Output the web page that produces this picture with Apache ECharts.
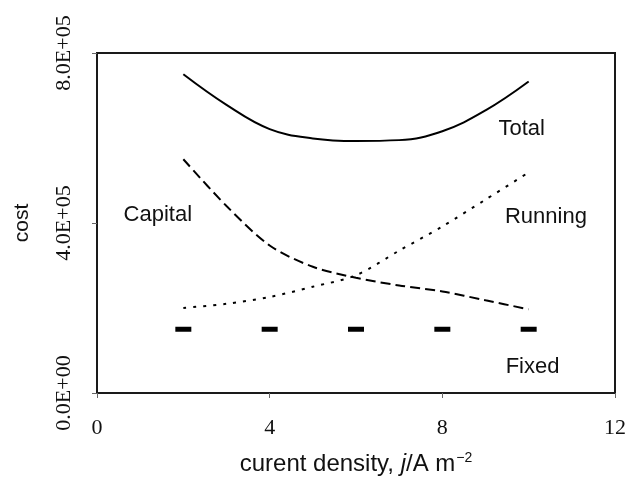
<!DOCTYPE html>
<html>
<head>
<meta charset="utf-8">
<script src="https://cdn.jsdelivr.net/npm/echarts@6/dist/echarts.min.js"></script>
<style>
html,body{margin:0;padding:0;background:#fff;}
#c{width:629px;height:481px;}
</style>
</head>
<body>
<div id="c"></div>
<script>
// current density j / A m^-2
const xValues = [2, 3, 4, 5, 6, 7, 8, 9, 10];
const totalCost   = [750000, 678000, 621000, 599000, 593000, 595000, 616000, 665000, 733000];
const capitalCost = [550000, 440000, 347000, 297000, 271000, 253000, 239000, 218000, 197000];
const runningCost = [200000, 210000, 226000, 250000, 277000, 335000, 392000, 455000, 519000];
const fixedX = [2, 4, 6, 8, 10];
const fixedCost = [150000, 150000, 150000, 150000, 150000];
const xTicks = [0, 4, 8, 12];
const yTickValues = [0, 400000, 800000];
const yTickLabels = ['0.0E+00', '4.0E+05', '8.0E+05'];
const curveLabels = ['Total', 'Capital', 'Running', 'Fixed'];
const curveLabelX = [9.84, 1.41, 10.4, 10.09];
const curveLabelY = [622000, 419000, 414000, 62000];

const pairs = (xs, ys) => xs.map((x, i) => [x, ys[i]]);

const chart = echarts.init(document.getElementById('c'), null, {renderer: 'canvas'});
chart.setOption({
  backgroundColor: '#fff',
  animation: false,
  grid: {left: 97, right: 14, top: 53, bottom: 86, show: true, borderColor: '#1a1a1a', borderWidth: 2, backgroundColor: 'transparent'},
  xAxis: {
    type: 'value', min: xTicks[0], max: xTicks[xTicks.length - 1], interval: 4,
    name: 'curent density, {i|j}/A m{sup|−2}',
    nameLocation: 'middle', nameGap: 58,
    nameTextStyle: {
      fontFamily: 'Liberation Sans', fontSize: 24, color: '#111',
      rich: {
        i: {fontFamily: 'Liberation Sans', fontStyle: 'italic', fontSize: 24, color: '#111'},
        sup: {fontFamily: 'Liberation Sans', fontSize: 14, color: '#111', verticalAlign: 'top', padding: [0, 0, 12, 1]}
      }
    },
    axisLine: {show: true, onZero: false, lineStyle: {color: '#1a1a1a', width: 2}},
    axisTick: {show: true, inside: false, length: 5, lineStyle: {color: '#666', width: 1}},
    axisLabel: {fontFamily: 'Liberation Serif', fontSize: 22, color: '#111', margin: 24},
    splitLine: {show: false}
  },
  yAxis: {
    type: 'value', min: 0, max: 800000, interval: 400000,
    name: 'cost', nameLocation: 'middle', nameGap: 64, nameRotate: 90,
    nameTextStyle: {fontFamily: 'Liberation Sans', fontSize: 21, color: '#111'},
    axisLine: {show: true, onZero: false, lineStyle: {color: '#1a1a1a', width: 2}},
    axisTick: {show: true, inside: false, length: 5, lineStyle: {color: '#666', width: 1}},
    axisLabel: {
      fontFamily: 'Liberation Serif', fontSize: 22, color: '#111', rotate: 90, margin: 22,
      formatter: v => yTickLabels[yTickValues.indexOf(v)]
    },
    splitLine: {show: false}
  },
  series: [
    {type: 'line', name: 'Total', data: pairs(xValues, totalCost), smooth: 0.4, symbol: 'none',
     lineStyle: {color: '#000', width: 2, type: 'solid'}},
    {type: 'line', name: 'Capital', data: pairs(xValues, capitalCost), smooth: 0.3, symbol: 'none',
     lineStyle: {color: '#000', width: 2, type: [10, 5]}},
    {type: 'line', name: 'Running', data: pairs(xValues, runningCost), smooth: 0.3, symbol: 'none',
     lineStyle: {color: '#000', width: 2, type: [3, 7]}},
    {type: 'scatter', name: 'Fixed', data: pairs(fixedX, fixedCost), symbol: 'rect', symbolSize: [16, 5],
     itemStyle: {color: '#000', opacity: 1}},
    {type: 'scatter', name: 'labels', silent: true, symbolSize: 0,
     itemStyle: {opacity: 1, color: '#000'},
     data: curveLabels.map((n, i) => ({name: n, value: [curveLabelX[i], curveLabelY[i]]})),
     label: {show: true, position: 'inside', formatter: p => p.name,
             fontFamily: 'Liberation Sans', fontSize: 22, color: '#111'}}
  ]
});
</script>
</body>
</html>
